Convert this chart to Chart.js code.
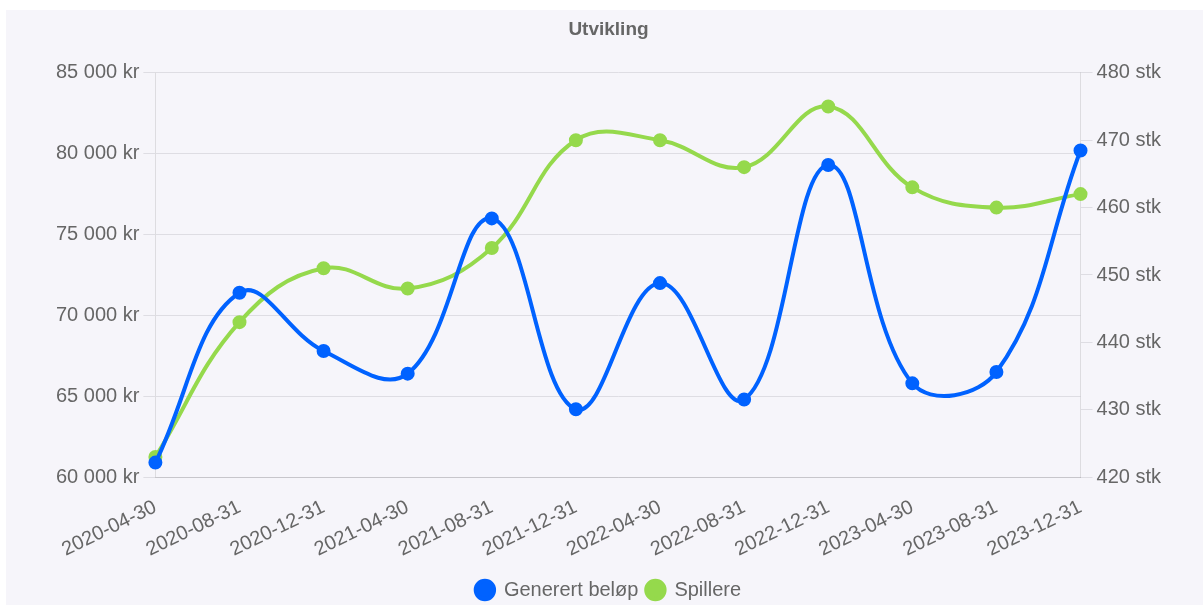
<!DOCTYPE html>
<html>
<head>
<meta charset="utf-8">
<script src="https://cdn.jsdelivr.net/npm/chart.js@4/dist/chart.umd.min.js"></script>
<style>
  html, body { margin: 0; padding: 0; background: #ffffff; }
  #chart_section { position: absolute; left: 6px; top: 10px; width: 1197px; height: 595px; background: #f6f5fa; }
</style>
</head>
<body>
<div id="chart_section"><canvas id="chart"></canvas></div>
<script>
const dates = ['2020-04-30', '2020-08-31', '2020-12-31', '2021-04-30', '2021-08-31', '2021-12-31',
  '2022-04-30', '2022-08-31', '2022-12-31', '2023-04-30', '2023-08-31', '2023-12-31'];
const generert_belop = [60900, 71400, 67800, 66400, 76000, 64200, 72000, 64800, 79300, 65800, 66500, 80200];
const spillere = [423, 443, 451, 448, 454, 470, 470, 466, 475, 463, 460, 462];

const blue = 'rgb(0, 98, 255)';
const green = 'rgb(149, 217, 76)';
const text_color = '#666666';

Chart.defaults.font.family = '"Liberation Sans", Arial, sans-serif';
Chart.defaults.font.size = 20;
Chart.defaults.color = text_color;

function format_kr (value) {
  return value.toString().replace(/\B(?=(\d{3})+(?!\d))/g, ' ') + ' kr';
}

const canvas = document.getElementById('chart');

const chart = new Chart(canvas, {
  type: 'line',
  data: {
    labels: dates,
    datasets: [{
      label: 'Generert beløp',
      data: generert_belop,
      borderColor: blue,
      backgroundColor: blue,
      borderWidth: 4,
      pointRadius: 5,
      tension: 0.4,
      yAxisID: 'y'
    }, {
      label: 'Spillere',
      data: spillere,
      borderColor: green,
      backgroundColor: green,
      borderWidth: 4,
      pointRadius: 5,
      tension: 0.4,
      yAxisID: 'y1'
    }]
  },
  options: {
    responsive: true,
    maintainAspectRatio: false,
    animation: false,
    layout: { padding: { left: 46, right: 38, top: 0, bottom: -5 } },
    plugins: {
      title: {
        display: true,
        text: 'Utvikling',
        font: { size: 19, weight: '600' },
        padding: { top: 8, bottom: 32 }
      },
      legend: {
        position: 'bottom',
        labels: { usePointStyle: true, pointStyle: 'circle', boxWidth: 18, boxHeight: 13, padding: 8 }
      }
    },
    scales: {
      x: {
        grid: { display: false },
        ticks: { maxRotation: 26, minRotation: 26, padding: 12, font: { lineHeight: 1 } }
      },
      y: {
        position: 'left',
        min: 60000,
        max: 85000,
        ticks: { stepSize: 5000, callback: format_kr, padding: 4 },
        grid: { color: '#dedde3', tickLength: 12 }
      },
      y1: {
        position: 'right',
        min: 420,
        max: 480,
        ticks: { stepSize: 10, callback: (v) => v + ' stk', padding: 4 },
        grid: { drawOnChartArea: false, color: '#dedde3', tickLength: 12 }
      }
    }
  }
});
</script>
</body>
</html>
